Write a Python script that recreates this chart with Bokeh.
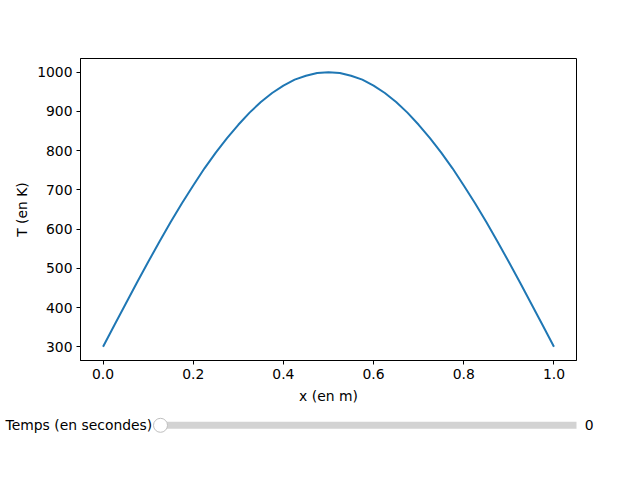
from bokeh.plotting import figure
from bokeh.layouts import column
from bokeh.models import Range1d, Label, FixedTicker
from bokeh.embed import file_html
from bokeh.resources import INLINE

# Data
x_pos = [0.0, 0.025, 0.05, 0.075, 0.1, 0.125, 0.15, 0.175, 0.2, 0.225, 0.25,
         0.275, 0.3, 0.325, 0.35, 0.375, 0.4, 0.425, 0.45, 0.475, 0.5,
         0.525, 0.55, 0.575, 0.6, 0.625, 0.65, 0.675, 0.7, 0.725, 0.75,
         0.775, 0.8, 0.825, 0.85, 0.875, 0.9, 0.925, 0.95, 0.975, 1.0]
temps = [300, 355, 409, 463, 516, 568, 618, 666, 711, 755, 795,
         832, 866, 897, 924, 947, 966, 981, 991, 998, 1000,
         998, 991, 981, 966, 947, 924, 897, 866, 832, 795,
         755, 711, 666, 618, 568, 516, 463, 409, 355, 300]
x_ticks = [0.0, 0.2, 0.4, 0.6, 0.8, 1.0]
y_ticks = [300, 400, 500, 600, 700, 800, 900, 1000]
slider_label = "Temps (en secondes)"
slider_min = 0
slider_max = 10
slider_value = 0

FONT = "DejaVu Sans"
FS = "13.9px"

p = figure(width=640, height=408, output_backend="svg", toolbar_location=None,
           x_range=Range1d(-0.05, 1.05), y_range=Range1d(265, 1035),
           min_border_left=80, min_border_right=64, min_border_top=58,
           min_border_bottom=48)
p.frame_align = False
p.line(x_pos, temps, line_color="#1f77b4", line_width=2)

p.xgrid.visible = False
p.ygrid.visible = False
p.outline_line_color = "black"
p.outline_line_width = 1
p.outline_line_alpha = 1

p.xaxis.ticker = FixedTicker(ticks=x_ticks)
p.yaxis.ticker = FixedTicker(ticks=y_ticks)
p.xaxis.major_label_overrides = {t: f"{t:.1f}" for t in x_ticks}
for ax in (p.xaxis[0], p.yaxis[0]):
    ax.major_tick_out = 4
    ax.major_tick_in = 0
    ax.minor_tick_out = 0
    ax.minor_tick_in = 0
    ax.major_tick_line_color = "black"
    ax.axis_line_color = "black"
    ax.major_label_text_font = FONT
    ax.major_label_text_font_size = FS
    ax.major_label_text_color = "black"
    ax.axis_label_text_font = FONT
    ax.axis_label_text_font_size = FS
    ax.axis_label_text_font_style = "normal"
    ax.axis_label_text_color = "black"
    ax.major_label_standoff = 4
p.xaxis.axis_label = "x (en m)"
p.yaxis.axis_label = "T (en K)"
p.xaxis.axis_label_standoff = 6
p.yaxis.axis_label_standoff = 4

# Slider drawn as a second figure (its frame covers the whole canvas)
span = slider_max - slider_min
ppu = 416 / span
s = figure(width=640, height=72, output_backend="svg", toolbar_location=None,
           x_range=Range1d(slider_min - 160 / ppu, slider_max + 64 / ppu),
           y_range=Range1d(-55.2, 16.8),
           x_axis_location=None, y_axis_location=None,
           min_border=0, min_border_left=0, min_border_right=0,
           min_border_top=0, min_border_bottom=0)
s.frame_align = False
s.xgrid.visible = False
s.ygrid.visible = False
s.outline_line_color = None
s.rect(x=[(slider_min + slider_max) / 2], y=[0], width=[span], height=7,
       height_units="screen", fill_color="#d3d3d3", line_color=None)
s.scatter(x=[slider_value], y=[0], size=14, fill_color="white",
          line_color="#bfbfbf", line_width=1)
s.add_layout(Label(x=slider_min - 8.3 / ppu, y=0, text=slider_label,
                   text_align="right", text_baseline="middle",
                   text_font=FONT, text_font_size=FS, text_color="black"))
s.add_layout(Label(x=slider_max + 8.3 / ppu, y=0, text=str(slider_value),
                   text_align="left", text_baseline="middle",
                   text_font=FONT, text_font_size=FS, text_color="black"))

layout = column(p, s, spacing=0)
open("out.html", "w").write(file_html(layout, INLINE))
